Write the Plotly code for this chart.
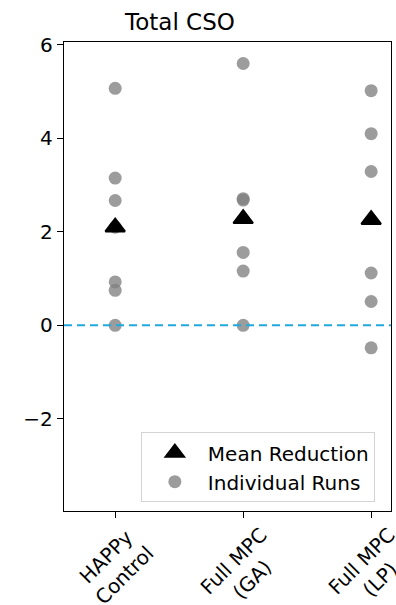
import plotly.graph_objects as go

# Strategy labels along the x axis
categories = ["HAPPy\nControl", "Full MPC\n(GA)", "Full MPC\n(LP)"]

# Individual run reductions for each strategy
happy_runs = [5.07, 3.15, 2.67, 2.10, 0.93, 0.75, 0.0]
ga_runs = [5.60, 2.71, 2.68, 1.56, 1.16, 0.0]
lp_runs = [5.02, 4.10, 3.29, 1.12, 0.51, -0.48]

# Mean reduction per strategy
mean_reduction = [2.10, 2.28, 2.26]

y_ticks = [-2, 0, 2, 4, 6]

FONT = "DejaVu Sans"
runs = [happy_runs, ga_runs, lp_runs]
xpos = list(range(len(categories)))

run_x, run_y = [], []
for i, vals in enumerate(runs):
    run_x += [i] * len(vals)
    run_y += vals

fig = go.Figure()

fig.add_trace(go.Scatter(
    x=run_x, y=run_y, mode="markers", name="Individual Runs",
    marker=dict(symbol="circle", size=13, color="gray", opacity=0.78,
                line=dict(width=0)),
))

fig.add_trace(go.Scatter(
    x=xpos, y=mean_reduction, mode="markers", name="Mean Reduction",
    marker=dict(symbol="triangle-up", size=17, color="black",
                line=dict(width=2, color="black")),
))

# zero reference line
fig.add_shape(type="line", xref="paper", x0=0, x1=1, yref="y", y0=0, y1=0,
              line=dict(color="#1fa9dd", width=2, dash="8px,5px"), layer="above")

# rotated category labels, centred under each tick
for i, lab in enumerate(categories):
    fig.add_annotation(
        x=i, xref="x", y=0, yref="paper", yshift=-9,
        text=lab.replace("\n", "<br>"), textangle=-45,
        xanchor="center", yanchor="top", showarrow=False, align="center",
        font=dict(family=FONT, size=20, color="black"),
    )

fig.update_layout(
    width=396, height=605,
    margin=dict(l=64, r=5, t=42, b=94),
    paper_bgcolor="white", plot_bgcolor="white",
    font=dict(family=FONT, size=20, color="black"),
    title=dict(text="Total CSO", x=180 / 396, xref="container", xanchor="center",
               y=1 - 22 / 605, yref="container", yanchor="middle",
               font=dict(family=FONT, size=23, color="black")),
    showlegend=True,
    legend=dict(
        x=0.235, y=0.168, xanchor="left", yanchor="top",
        traceorder="reversed", bgcolor="white",
        bordercolor="#d4d4d4", borderwidth=1,
        font=dict(family=FONT, size=20, color="black"),
        itemwidth=56,
    ),
)

fig.update_xaxes(
    range=[-0.4, 2.155], tickmode="array", tickvals=xpos, ticktext=["", "", ""],
    showgrid=False, zeroline=False, showline=True, linecolor="black", linewidth=1.3,
    mirror=True, ticks="outside", ticklen=6, tickwidth=1.3, tickcolor="black",
)
fig.update_yaxes(
    range=[-3.97, 6.06], tickmode="array", tickvals=y_ticks,
    showgrid=False, zeroline=False, showline=True, linecolor="black", linewidth=1.3,
    mirror=True, ticks="outside", ticklen=6, tickwidth=1.3, tickcolor="black",
    tickfont=dict(family=FONT, size=20, color="black"),
)

fig.write_html("out.html")
